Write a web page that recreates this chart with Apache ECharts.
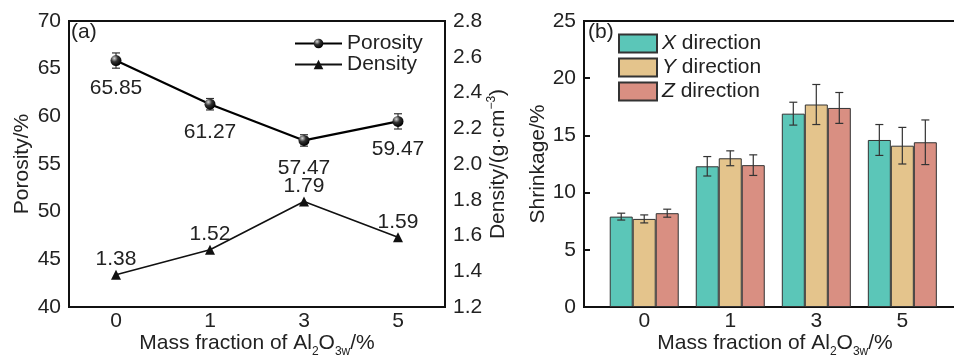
<!DOCTYPE html>
<html>
<head>
<meta charset="utf-8">
<script src="https://cdn.jsdelivr.net/npm/echarts@6/dist/echarts.min.js"></script>
<style>
  html, body { margin: 0; padding: 0; background: #fff; }
  #chart { width: 954px; height: 358px; }
</style>
</head>
<body>
<div id="chart"></div>
<script>
// panel (a)
const fractions = ['0', '1', '3', '5']
const porosity = [65.85, 61.27, 57.47, 59.47]
const porosityErr = [0.8, 0.6, 0.6, 0.8]
const density = [1.38, 1.52, 1.79, 1.59]

// panel (b)
const groupPos = [0, 1, 2, 3]
const shrinkX = [7.9, 12.3, 16.9, 14.6]
const shrinkY = [7.7, 13.0, 17.7, 14.1]
const shrinkZ = [8.2, 12.4, 17.4, 14.4]
const errX = [0.3, 0.85, 1.0, 1.35]
const errY = [0.35, 0.65, 1.75, 1.6]
const errZ = [0.35, 0.9, 1.35, 1.95]

const FONT = 'Liberation Sans, Arial, sans-serif'
const FS = 21
const barW = 23

const chart = echarts.init(document.getElementById('chart'))

const xName = {
  name: 'Mass fraction of Al{sub|2}O{sub|3w}/%',
  nameLocation: 'middle',
  nameGap: 25,
  nameMoveOverlap: false,
  nameTextStyle: {
    fontFamily: FONT, fontSize: FS, color: '#222', lineHeight: 22,
    rich: { sub: { fontFamily: FONT, fontSize: 12, verticalAlign: 'bottom', lineHeight: 12, padding: [0, 0, -4, 0], color: '#222' } }
  }
}

const axisCommon = {
  axisLine: { onZero: false, lineStyle: { color: '#111', width: 2 } },
  axisTick: { inside: true, length: 6, lineStyle: { color: '#111', width: 2 } },
  axisLabel: { fontFamily: FONT, fontSize: FS, color: '#222' },
  splitLine: { show: false }
}

function errRender(offsetsPx) {
  return function (params, api) {
    const x = api.value(0)
    const lo = api.value(1)
    const hi = api.value(2)
    const k = api.value(3)
    const off = offsetsPx[k] || 0
    const p1 = api.coord([x, lo])
    const p2 = api.coord([x, hi])
    const cx = p1[0] + off
    const cap = 4
    const style = { stroke: '#333', lineWidth: 1.2 }
    return {
      type: 'group',
      children: [
        { type: 'line', shape: { x1: cx, y1: p1[1], x2: cx, y2: p2[1] }, style },
        { type: 'line', shape: { x1: cx - cap, y1: p1[1], x2: cx + cap, y2: p1[1] }, style },
        { type: 'line', shape: { x1: cx - cap, y1: p2[1], x2: cx + cap, y2: p2[1] }, style }
      ]
    }
  }
}

const porErrData = porosity.map((v, i) => [i, v - porosityErr[i], v + porosityErr[i], 0])
const shrinkErrData = []
;[[shrinkX, errX], [shrinkY, errY], [shrinkZ, errZ]].forEach(([vals, errs], k) => {
  vals.forEach((v, i) => shrinkErrData.push([groupPos[i], v - errs[i], v + errs[i], k]))
})

const sphere = new echarts.graphic.RadialGradient(0.35, 0.3, 0.7, [
  { offset: 0, color: '#d8d8d8' },
  { offset: 0.45, color: '#333' },
  { offset: 1, color: '#000' }
])

const option = {
  animation: false,
  textStyle: { fontFamily: FONT },
  title: [
    { text: '(a)', left: 71, top: 22, padding: 0, textStyle: { fontFamily: FONT, fontSize: FS, fontWeight: 'normal', color: '#222' } },
    { text: '(b)', left: 588, top: 22, padding: 0, textStyle: { fontFamily: FONT, fontSize: FS, fontWeight: 'normal', color: '#222' } }
  ],
  legend: [
    {
      data: ['Porosity', 'Density'],
      orient: 'vertical',
      left: 294, top: 33, padding: 0,
      itemWidth: 47, itemHeight: 12, itemGap: 0,
      textStyle: { fontFamily: FONT, fontSize: FS, color: '#222', lineHeight: 20, padding: [0, 0, 0, 0] }
    },
    {
      data: ['X', 'Y', 'Z'],
      orient: 'vertical',
      icon: 'rect',
      left: 618, top: 33, padding: 0,
      itemWidth: 38, itemHeight: 18, itemGap: 3,
      formatter: n => '{i|' + n + '} direction',
      textStyle: {
        fontFamily: FONT, fontSize: FS, color: '#222', lineHeight: 18, padding: [0, 0, 0, 0],
        rich: { i: { fontFamily: FONT, fontSize: FS, fontStyle: 'italic', color: '#222', lineHeight: 18 } }
      }
    }
  ],
  grid: [
    { left: 69, top: 21, width: 376, bottom: 51, show: true, borderColor: '#111', borderWidth: 2, outerBoundsMode: 'none' },
    { left: 584, top: 21, right: -12, bottom: 51, show: true, borderColor: '#111', borderWidth: 2, outerBoundsMode: 'none' }
  ],
  xAxis: [
    Object.assign({}, axisCommon, xName, {
      type: 'category', gridIndex: 0, data: fractions, boundaryGap: true,
      axisTick: Object.assign({}, axisCommon.axisTick, { alignWithLabel: true }),
      axisLabel: Object.assign({}, axisCommon.axisLabel, { margin: 4 })
    }),
    Object.assign({}, axisCommon, xName, {
      type: 'value', gridIndex: 1, min: -0.7, max: 3.74,
      axisTick: Object.assign({}, axisCommon.axisTick, { customValues: groupPos }),
      axisLabel: Object.assign({}, axisCommon.axisLabel, {
        margin: 4, customValues: groupPos, formatter: v => fractions[Math.round(v)]
      })
    })
  ],
  yAxis: [
    Object.assign({}, axisCommon, {
      type: 'value', gridIndex: 0, min: 40, max: 70, interval: 5,
      name: 'Porosity/%', nameLocation: 'middle', nameGap: 36,
      nameTextStyle: { fontFamily: FONT, fontSize: FS, color: '#222' }
    }),
    Object.assign({}, axisCommon, {
      type: 'value', gridIndex: 0, position: 'right', min: 1.2, max: 2.8, interval: 0.2,
      axisLabel: Object.assign({}, axisCommon.axisLabel, { formatter: v => v.toFixed(1) }),
      name: 'Density/(g·cm{sup|−3})', nameLocation: 'middle', nameGap: 39, nameRotate: 90,
      nameTextStyle: {
        fontFamily: FONT, fontSize: FS, color: '#222', lineHeight: 24,
        rich: { sup: { fontFamily: FONT, fontSize: 12, verticalAlign: 'top', lineHeight: 24, padding: [0, 0, 8, 0], color: '#222' } }
      }
    }),
    Object.assign({}, axisCommon, {
      type: 'value', gridIndex: 1, min: 0, max: 25, interval: 5,
      name: 'Shrinkage/%', nameLocation: 'middle', nameGap: 28,
      nameTextStyle: { fontFamily: FONT, fontSize: FS, color: '#222' }
    })
  ],
  series: [
    {
      name: 'Porosity', type: 'line', xAxisIndex: 0, yAxisIndex: 0,
      data: porosity,
      symbol: 'circle', symbolSize: 11,
      itemStyle: { color: sphere },
      lineStyle: { color: '#000', width: 2.2 },
      label: { show: true, position: 'bottom', distance: 12, fontFamily: FONT, fontSize: FS, color: '#222', formatter: p => p.value.toFixed(2) },
      z: 3
    },
    {
      type: 'custom', xAxisIndex: 0, yAxisIndex: 0,
      data: porErrData, renderItem: errRender([0]), z: 2, silent: true
    },
    {
      name: 'Density', type: 'line', xAxisIndex: 0, yAxisIndex: 1,
      data: density,
      symbol: 'triangle', symbolSize: 10,
      itemStyle: { color: '#111' },
      lineStyle: { color: '#111', width: 1.6 },
      label: { show: true, position: 'top', distance: 0, fontFamily: FONT, fontSize: FS, color: '#222', formatter: p => p.value.toFixed(2) }
    },
    {
      name: 'X', type: 'bar', xAxisIndex: 1, yAxisIndex: 2,
      data: shrinkX.map((v, i) => [groupPos[i], v]),
      barWidth: barW, barGap: '0%',
      itemStyle: { color: '#5bc6b8', borderColor: '#333', borderWidth: 1 }
    },
    {
      name: 'Y', type: 'bar', xAxisIndex: 1, yAxisIndex: 2,
      data: shrinkY.map((v, i) => [groupPos[i], v]),
      barWidth: barW, barGap: '0%',
      itemStyle: { color: '#e4c48c', borderColor: '#333', borderWidth: 1 }
    },
    {
      name: 'Z', type: 'bar', xAxisIndex: 1, yAxisIndex: 2,
      data: shrinkZ.map((v, i) => [groupPos[i], v]),
      barWidth: barW, barGap: '0%',
      itemStyle: { color: '#d98f82', borderColor: '#333', borderWidth: 1 }
    },
    {
      type: 'custom', xAxisIndex: 1, yAxisIndex: 2,
      data: shrinkErrData, renderItem: errRender([-barW, 0, barW]), z: 5, silent: true
    }
  ]
}

chart.setOption(option)
</script>
</body>
</html>
